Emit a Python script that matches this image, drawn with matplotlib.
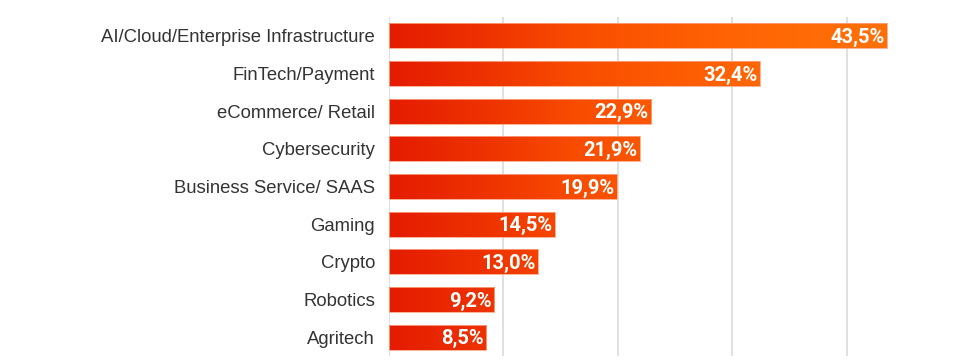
import numpy as np
import matplotlib.pyplot as plt
from matplotlib.colors import LinearSegmentedColormap

categories = ["AI/Cloud/Enterprise Infrastructure", "FinTech/Payment", "eCommerce/ Retail",
              "Cybersecurity", "Business Service/ SAAS", "Gaming", "Crypto", "Robotics", "Agritech"]
values = [43.5, 32.4, 22.9, 21.9, 19.9, 14.5, 13.0, 9.2, 8.5]
labels = ["43,5%", "32,4%", "22,9%", "21,9%", "19,9%", "14,5%", "13,0%", "9,2%", "8,5%"]
xticks = [0, 10, 20, 30, 40]

fig = plt.figure(figsize=(9.6, 3.64), dpi=100)
ax = fig.add_axes([389/960, 8/364, 1 - 389/960, (356-17)/364])
xmax = 49.9
ax.set_xlim(0, xmax)
ax.set_ylim(len(categories) - 0.5, -0.5)

cmap = LinearSegmentedColormap.from_list(
    "g", [(0.0, "#E51C00"), (0.19, "#EE3200"), (0.37, "#F84C00"),
          (0.66, "#FF6204"), (0.82, "#FF6A06"), (1.0, "#FF7008")])
grad = np.linspace(0, 1, 512).reshape(1, -1)

ypos = np.arange(len(categories))
bars = ax.barh(ypos, values, height=0.66, color="none", edgecolor="#F9A585", linewidth=0.6, zorder=3)
for b in bars:
    im = ax.imshow(grad, cmap=cmap, extent=[0, 43.5, len(categories), -1], aspect="auto", zorder=2,
                   interpolation="bicubic")
    im.set_clip_path(b)

for y, v, l in zip(ypos, values, labels):
    ax.text(v - 0.2, y + 0.04, l, ha="right", va="center", color="white", fontsize=14.5,
            fontweight="bold", family="Roboto", zorder=4)

ax.set_xticks(xticks)
ax.xaxis.grid(True, color="#DDDDDD", linewidth=1.3, zorder=0)
ax.set_axisbelow(True)
ax.tick_params(axis="x", length=0, labelbottom=False)
ax.tick_params(axis="y", length=0, pad=10)
ax.set_yticks(ypos)
ax.set_yticklabels(categories, fontsize=13.3, color="#333333", family="Liberation Sans")
for s in ax.spines.values():
    s.set_visible(False)

fig.savefig("out.png", dpi=100)
